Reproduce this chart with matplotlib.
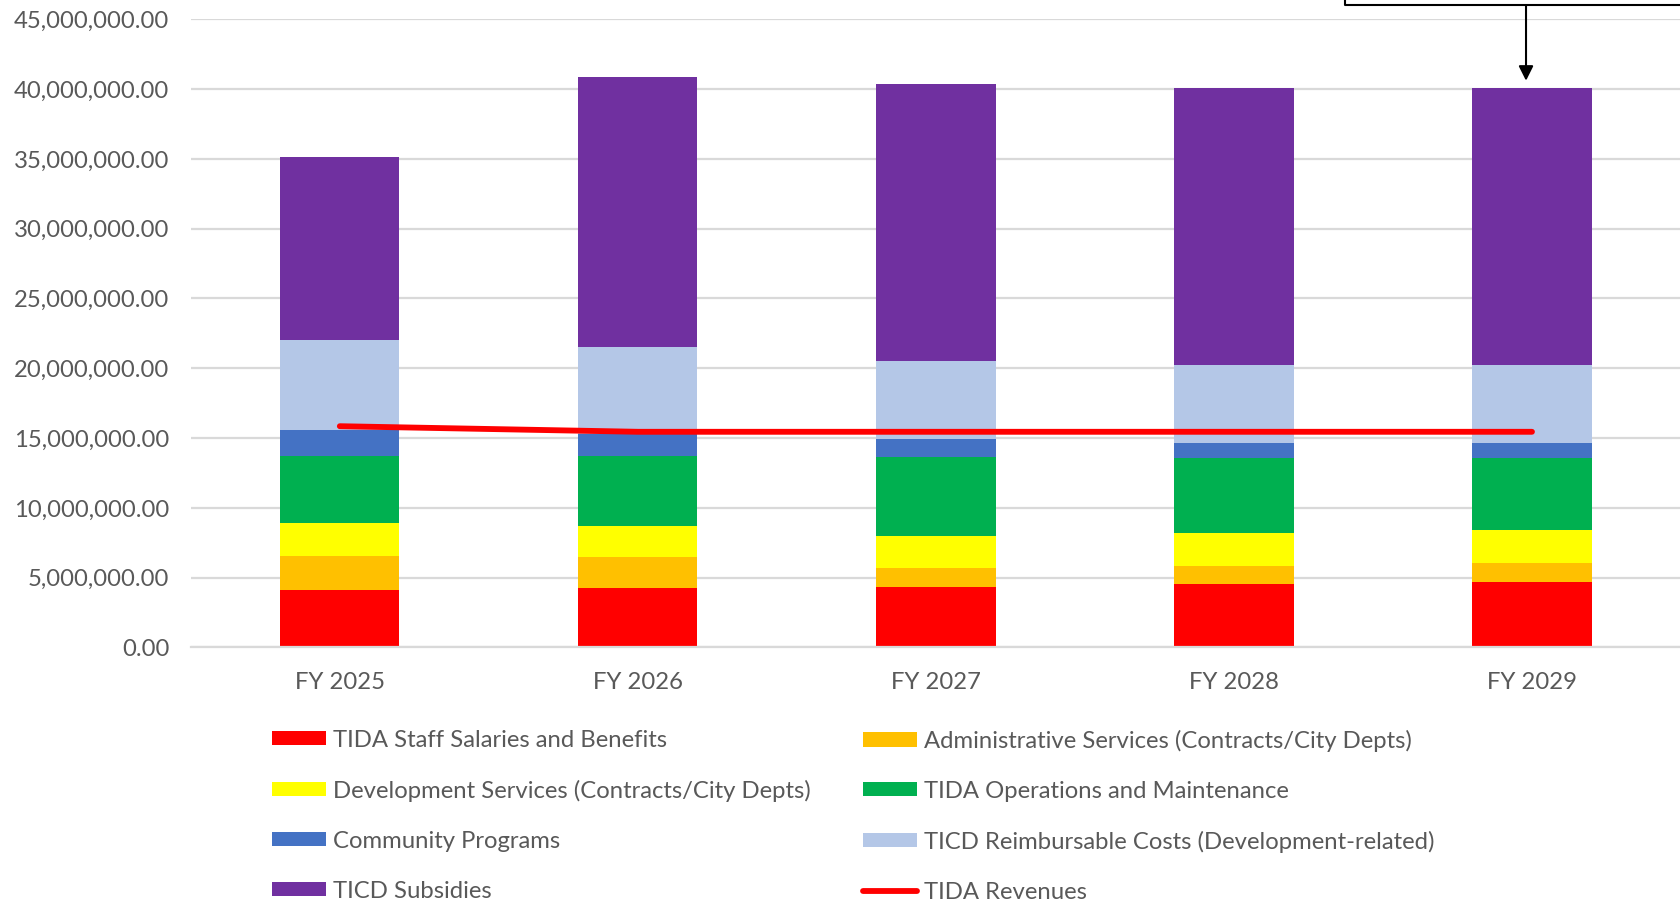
import matplotlib
matplotlib.use("Agg")
import matplotlib.pyplot as plt
from matplotlib.lines import Line2D
from matplotlib.patches import Patch
from matplotlib.ticker import FuncFormatter
import numpy as np

plt.rcParams['font.family'] = ['Lato', 'DejaVu Sans']

years = ["FY 2025", "FY 2026", "FY 2027", "FY 2028", "FY 2029"]

staff_salaries = [4.13e6, 4.23e6, 4.35e6, 4.54e6, 4.66e6]
admin_services = [2.42e6, 2.22e6, 1.32e6, 1.32e6, 1.41e6]
dev_services = [2.34e6, 2.23e6, 2.31e6, 2.32e6, 2.32e6]
operations = [4.83e6, 5.04e6, 5.69e6, 5.38e6, 5.17e6]
community = [1.87e6, 1.55e6, 1.27e6, 1.09e6, 1.09e6]
ticd_reimb = [6.41e6, 6.23e6, 5.56e6, 5.55e6, 5.55e6]
ticd_subsidies = [13.1e6, 19.4e6, 19.9e6, 19.9e6, 19.9e6]
revenues = [15.85e6, 15.45e6, 15.45e6, 15.45e6, 15.45e6]

series = [
    ("TIDA Staff Salaries and Benefits", staff_salaries, "#FF0000"),
    ("Administrative Services (Contracts/City Depts)", admin_services, "#FFC000"),
    ("Development Services (Contracts/City Depts)", dev_services, "#FFFF00"),
    ("TIDA Operations and Maintenance", operations, "#00B050"),
    ("Community Programs", community, "#4472C4"),
    ("TICD Reimbursable Costs (Development-related)", ticd_reimb, "#B4C7E7"),
    ("TICD Subsidies", ticd_subsidies, "#7030A0"),
]

TEXT = "#595959"
GRID = "#D9D9D9"
FS = 17.2

fig = plt.figure(figsize=(16.81, 9.02), dpi=100)
ax = fig.add_axes([0.1135, 0.2822, 0.8865, 0.6964])

x = np.arange(len(years))
bottom = np.zeros(len(years))
handles = {}
for name, vals, col in series:
    ax.bar(x, vals, width=0.4, bottom=bottom, color=col, zorder=2, linewidth=0)
    handles[name] = Patch(facecolor=col, edgecolor='none')
    bottom += np.array(vals)

ax.plot(x, revenues, color="#FF0000", lw=4.2, solid_capstyle='round', zorder=4)
handles["TIDA Revenues"] = Line2D([0], [0], color="#FF0000", lw=4.2, solid_capstyle='round')

ax.set_xlim(-0.5, 4.5)
ax.set_ylim(0, 45e6)
ax.set_yticks(np.arange(0, 45e6 + 1, 5e6))
ax.yaxis.set_major_formatter(FuncFormatter(lambda v, p: f"{v:,.2f}"))
ax.set_xticks(x)
ax.set_xticklabels(years)
ax.tick_params(axis='both', length=0, colors=TEXT, labelsize=FS)
ax.tick_params(axis='y', pad=15.5)
ax.tick_params(axis='x', pad=17.5)
ax.grid(axis='y', color=GRID, lw=1.6, zorder=0)
ax.set_axisbelow(True)
for s in ['top', 'right', 'left']:
    ax.spines[s].set_visible(False)
ax.spines['bottom'].set_color(GRID)
ax.spines['bottom'].set_linewidth(1.6)

# annotation box and arrow
fig.add_artist(Line2D([0.8001, 0.8001, 1.0], [1.0, 0.994, 0.994],
                      transform=fig.transFigure, color='black', lw=1.5))
ax.annotate("", xy=(3.98, 40.6e6), xycoords='data',
            xytext=(3.98, 1.0225), textcoords=('data', 'axes fraction'),
            arrowprops=dict(arrowstyle='-|>', mutation_scale=22, color='black',
                            lw=1.5, shrinkA=0, shrinkB=0))

col1 = ["TIDA Staff Salaries and Benefits", "Development Services (Contracts/City Depts)",
        "Community Programs", "TICD Subsidies"]
col2 = ["Administrative Services (Contracts/City Depts)", "TIDA Operations and Maintenance",
        "TICD Reimbursable Costs (Development-related)", "TIDA Revenues"]

common = dict(frameon=False, fontsize=FS, labelcolor=TEXT, handlelength=2.25,
              handleheight=0.55, handletextpad=0.3, labelspacing=1.21,
              borderpad=0, borderaxespad=0, loc='upper left')
leg1 = fig.legend([handles[n] for n in col1], col1,
                  bbox_to_anchor=(0.1618, 0.191), **common)
leg2 = fig.legend([handles[n] for n in col2], col2,
                  bbox_to_anchor=(0.5134, 0.191), **common)

fig.savefig("out.png", dpi=100)
